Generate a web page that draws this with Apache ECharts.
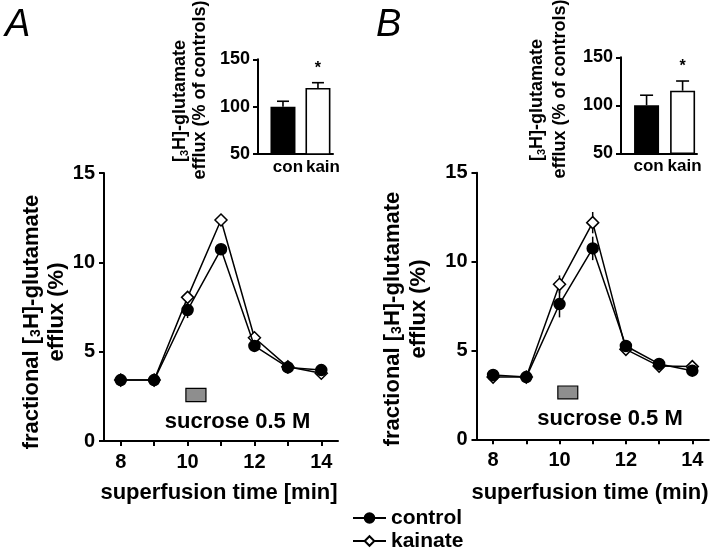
<!DOCTYPE html>
<html><head><meta charset="utf-8">
<script src="https://cdn.jsdelivr.net/npm/echarts@6/dist/echarts.min.js"></script>
<style>html,body{margin:0;padding:0;background:#fff}#c{width:720px;height:555px}</style>
</head><body><div id="c"></div>
<script>
// ---- data ----
const times = [8, 9, 10, 11, 12, 13, 14];
const xTickValues = [8, 9, 10, 11, 12, 13, 14];
const xLabelValues = [8, 10, 12, 14];
const ctrlA = [3.41, 3.41, 7.33, 10.73, 5.32, 4.12, 3.97];
const ctrlErrA = [0.1, 0.1, 0.45, 0.2, 0.2, 0.1, 0.1];
const kainA = [3.41, 3.41, 8.04, 12.37, 5.78, 4.15, 3.79];
const kainErrA = [0.1, 0.1, 0.3, 0.2, 0.2, 0.1, 0.1];
const ctrlB = [3.62, 3.5, 7.61, 10.74, 5.25, 4.24, 3.86];
const ctrlErrB = [0.1, 0.1, 0.75, 0.66, 0.15, 0.1, 0.1];
const kainB = [3.5, 3.5, 8.72, 12.19, 5.06, 4.12, 4.09];
const kainErrB = [0.1, 0.1, 0.5, 0.6, 0.15, 0.1, 0.1];
const sucroseA = [9.95, 10.55, 2.2, 2.95];   // start, end, low, high
const sucroseB = [9.95, 10.55, 2.28, 3.0];
const insetCats = ['con', 'kain'];
const insetA = [100, 119.7];
const insetErrA = [5.7, 5.6];
const insetB = [100, 115.2];
const insetErrB = [10.5, 10.1];
const insetSig = ['', '*'];
const seriesNames = ['control', 'kainate'];

// ---- styles ----
const FF = '"Liberation Sans", Arial, Helvetica, sans-serif';
const BLK = '#000';
const chart = echarts.init(document.getElementById('c'), null, {renderer: 'canvas'});

function mainX(g) {
  return {
    gridIndex: g, type: 'value', min: 7.5, max: 14.5,
    axisLine: {show: true, onZero: false, lineStyle: {color: BLK, width: 2}},
    axisTick: {show: true, customValues: xTickValues, length: 5, lineStyle: {color: BLK, width: 2}},
    axisLabel: {customValues: xLabelValues, margin: 11, fontSize: 20, fontWeight: 'bold', color: BLK, fontFamily: FF},
    splitLine: {show: false}
  };
}
function mainY(g) {
  return {
    gridIndex: g, type: 'value', min: 0, max: 15, interval: 5,
    axisLine: {show: true, lineStyle: {color: BLK, width: 2}},
    axisTick: {show: true, length: 5, lineStyle: {color: BLK, width: 2}},
    axisLabel: {margin: 9, fontSize: 20, fontWeight: 'bold', color: BLK, fontFamily: FF},
    splitLine: {show: false}
  };
}
function insetX(g, mn, mx, pad) {
  return {
    gridIndex: g, type: 'value', min: mn, max: mx,
    axisLine: {show: true, onZero: false, lineStyle: {color: BLK, width: 2}},
    axisTick: {show: false},
    axisLabel: {customValues: [1, 2], formatter: v => insetCats[Math.round(v) - 1], margin: 5,
      fontSize: 17, fontWeight: 'bold', color: BLK, fontFamily: FF, padding: [0, 0, 0, pad]},
    splitLine: {show: false}
  };
}
function insetY(g) {
  return {
    gridIndex: g, type: 'value', min: 50, max: 150, interval: 50,
    axisLine: {show: true, lineStyle: {color: BLK, width: 2}},
    axisTick: {show: true, length: 5, lineStyle: {color: BLK, width: 2}},
    axisLabel: {margin: 8, fontSize: 18, fontWeight: 'bold', color: BLK, fontFamily: FF},
    splitLine: {show: false}
  };
}

function lineSeries(name, vals, ax, symbol, fill, z) {
  return {
    name: name, type: 'line', xAxisIndex: ax, yAxisIndex: ax, z: z,
    data: times.map((t, i) => [t, vals[i]]),
    symbol: symbol, symbolSize: symbol === 'circle' ? 11 : 12,
    showSymbol: true,
    lineStyle: {color: BLK, width: 1.5},
    itemStyle: {color: fill, borderColor: BLK, borderWidth: 1.5},
    emphasis: {disabled: true}, animation: false
  };
}
function errSeries(vals, errs, ax) {
  return {
    type: 'custom', xAxisIndex: ax, yAxisIndex: ax, z: 1, silent: true, animation: false,
    data: times.map((t, i) => [t, vals[i], errs[i]]),
    renderItem: (p, api) => {
      const x = api.value(0), v = api.value(1), e = api.value(2);
      const a = api.coord([x, v - e]), b = api.coord([x, v + e]);
      return {type: 'line', shape: {x1: a[0], y1: a[1], x2: b[0], y2: b[1]},
        style: {stroke: BLK, lineWidth: 1.5}};
    }
  };
}
function sucroseSeries(s, ax) {
  return {
    type: 'custom', xAxisIndex: ax, yAxisIndex: ax, z: 1, silent: true, animation: false,
    data: [s],
    renderItem: (p, api) => {
      const a = api.coord([api.value(0), api.value(3)]);
      const b = api.coord([api.value(1), api.value(2)]);
      return {type: 'rect', shape: {x: a[0], y: a[1], width: b[0] - a[0], height: b[1] - a[1]},
        style: {fill: '#8e8e8e', stroke: BLK, lineWidth: 1.2}};
    }
  };
}
function insetBars(vals, ax) {
  return {
    type: 'bar', xAxisIndex: ax, yAxisIndex: ax, barWidth: 25, z: 2, animation: false, silent: true,
    data: vals.map((v, i) => ({value: [i + 1, v], itemStyle: {color: i === 0 ? BLK : '#fff'}})),
    itemStyle: {borderColor: BLK, borderWidth: 1.6}
  };
}
function insetErr(vals, errs, ax, cap) {
  return {
    type: 'custom', xAxisIndex: ax, yAxisIndex: ax, z: 3, silent: true, animation: false,
    data: vals.map((v, i) => [i + 1, v, errs[i]]),
    renderItem: (p, api) => {
      const x = api.value(0), v = api.value(1), e = api.value(2);
      const a = api.coord([x, v]), b = api.coord([x, v + e]);
      const children = [
        {type: 'line', shape: {x1: a[0], y1: a[1], x2: b[0], y2: b[1]}, style: {stroke: BLK, lineWidth: 1.6}},
        {type: 'line', shape: {x1: b[0] - cap / 2, y1: b[1], x2: b[0] + cap / 2, y2: b[1]}, style: {stroke: BLK, lineWidth: 1.6}}
      ];
      const sig = insetSig[p.dataIndex];
      if (sig) children.push({type: 'text', x: b[0], y: b[1] - 6,
        style: {text: sig, fontSize: 16, fontWeight: 'bold', fontFamily: FF, fill: BLK, align: 'center', verticalAlign: 'bottom'}});
      return {type: 'group', children: children};
    }
  };
}

function vtext(x, y, txt, size) {
  return {type: 'text', x: x, y: y, rotation: Math.PI / 2, silent: true,
    style: {text: txt, align: 'center', verticalAlign: 'middle', fill: BLK,
      rich: {a: {fontSize: size, fontWeight: 'bold', fontFamily: FF, fill: BLK},
             s: {fontSize: Math.round(size * 0.62), fontWeight: 'bold', fontFamily: FF, fill: BLK, padding: [9, 0, 0, 0]}}}};
}
function htext(x, y, txt, size, extra) {
  return {type: 'text', x: x, y: y, silent: true,
    style: Object.assign({text: txt, align: 'center', verticalAlign: 'middle', fill: BLK,
      fontSize: size, fontWeight: 'bold', fontFamily: FF}, extra || {})};
}

const option = {
  backgroundColor: '#fff',
  animation: false,
  grid: [
    {left: 104, top: 173, width: 234, height: 268, outerBoundsMode: 'none'},
    {left: 476.5, top: 172.7, width: 232.4, height: 266.6, outerBoundsMode: 'none'},
    {left: 258, top: 59.3, width: 75, height: 94.7, outerBoundsMode: 'none'},
    {left: 621, top: 57.3, width: 76, height: 96, outerBoundsMode: 'none'}
  ],
  xAxis: [mainX(0), mainX(1), insetX(2, 0.286, 2.43, 10), insetX(3, 0.29, 2.4, 4)],
  yAxis: [mainY(0), mainY(1), insetY(2), insetY(3)],
  legend: {
    data: seriesNames, orient: 'vertical', left: 352, top: 507, padding: 0,
    itemWidth: 33, itemHeight: 12, itemGap: 1,
    selectedMode: false,
    textStyle: {fontSize: 21, lineHeight: 22, fontWeight: 'bold', fontFamily: FF, color: BLK}
  },
  series: [
    errSeries(kainA, kainErrA, 0), errSeries(ctrlA, ctrlErrA, 0),
    errSeries(kainB, kainErrB, 1), errSeries(ctrlB, ctrlErrB, 1),
    sucroseSeries(sucroseA, 0), sucroseSeries(sucroseB, 1),
    lineSeries(seriesNames[1], kainA, 0, 'diamond', '#fff', 2),
    lineSeries(seriesNames[0], ctrlA, 0, 'circle', BLK, 3),
    lineSeries(seriesNames[1], kainB, 1, 'diamond', '#fff', 2),
    lineSeries(seriesNames[0], ctrlB, 1, 'circle', BLK, 3),
    insetBars(insetA, 2), insetBars(insetB, 3),
    insetErr(insetA, insetErrA, 2, 12), insetErr(insetB, insetErrB, 3, 13)
  ],
  graphic: [
    {type: 'text', left: 5, top: 6, silent: true, style: {text: 'A', fontSize: 38, fontStyle: 'italic', fontFamily: FF, fill: BLK}},
    {type: 'text', left: 376, top: 6, silent: true, style: {text: 'B', fontSize: 38, fontStyle: 'italic', fontFamily: FF, fill: BLK}},
    vtext(32, 322, '{a|fractional [}{s|3}{a|H]-glutamate}', 22),
    vtext(57, 312, '{a|efflux (%)}', 22),
    vtext(393, 319, '{a|fractional [}{s|3}{a|H]-glutamate}', 22),
    vtext(419, 309, '{a|efflux (%)}', 22),
    vtext(180, 101, '{a|[}{s|3}{a|H]-glutamate}', 18),
    vtext(200, 90, '{a|efflux (% of controls)}', 18),
    vtext(537, 100, '{a|[}{s|3}{a|H]-glutamate}', 18),
    vtext(560, 89, '{a|efflux (% of controls)}', 18),
    htext(237.5, 422, 'sucrose 0.5 M', 22),
    htext(610, 419, 'sucrose 0.5 M', 22),
    htext(219, 493, 'superfusion time [min]', 22),
    htext(590, 493, 'superfusion time (min)', 22)
  ]
};
chart.setOption(option);
</script></body></html>
